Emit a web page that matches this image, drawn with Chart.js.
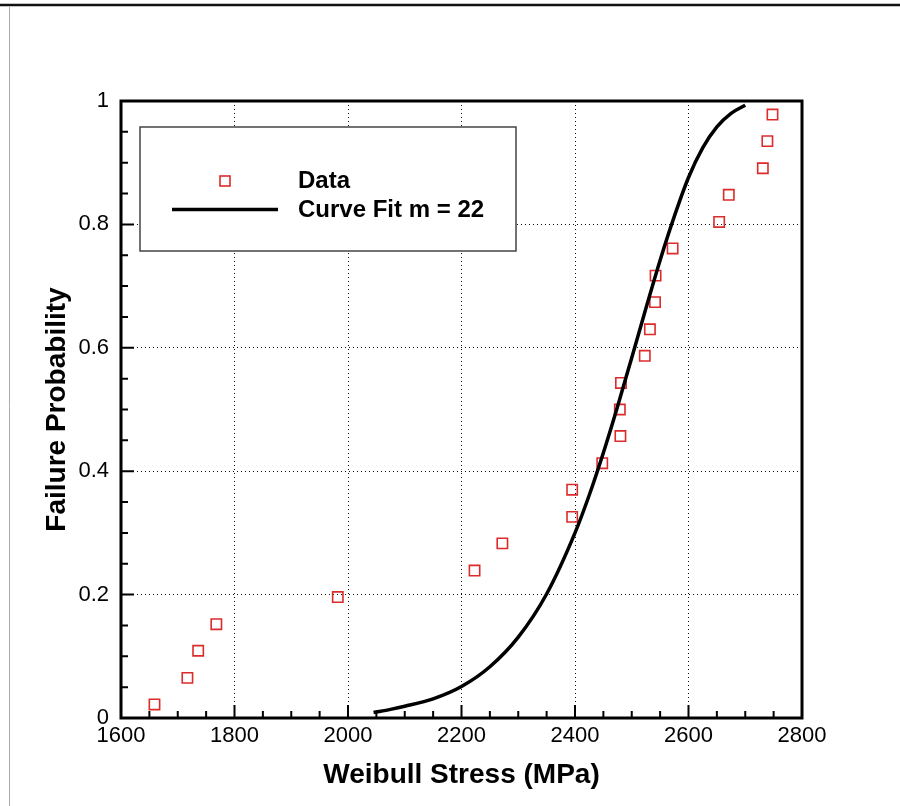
<!DOCTYPE html>
<html><head><meta charset="utf-8">
<script src="https://cdn.jsdelivr.net/npm/chart.js@4/dist/chart.umd.min.js"></script>
<style>html,body{margin:0;padding:0;background:#fff;}#wrap{width:900px;height:806px;position:relative;}canvas{display:block;}</style>
</head><body><div id="wrap"><canvas id="c" width="900" height="806"></canvas></div>
<script>
// ---- data ----
const stressData = [1659,1717,1736,1768,1982,2223,2272,2395,2395,2448,2480,2479,2481,2523,2532,2541,2542,2572,2654,2671,2731,2739,2748];
const probData   = [0.022,0.065,0.109,0.152,0.196,0.239,0.283,0.326,0.370,0.413,0.457,0.500,0.543,0.587,0.630,0.674,0.717,0.761,0.804,0.848,0.891,0.935,0.978];
const fitStress  = [2045,2075,2100,2150,2200,2250,2300,2350,2400,2425,2450,2475,2500,2525,2550,2575,2600,2625,2650,2675,2700];
const fitProb    = [0.009,0.014,0.019,0.031,0.051,0.083,0.131,0.201,0.300,0.361,0.430,0.505,0.584,0.664,0.742,0.813,0.876,0.924,0.958,0.980,0.993];
const xTicks = [1600,1800,2000,2200,2400,2600,2800];
const xTickLabels = ['1600','1800','2000','2200','2400','2600','2800'];
const yTicks = [0,0.2,0.4,0.6,0.8,1];
const yTickLabels = ['0','0.2','0.4','0.6','0.8','1'];
const xMinor = [1650,1700,1750,1850,1900,1950,2050,2100,2150,2250,2300,2350,2450,2500,2550,2650,2700,2750];
const yMinor = [0.05,0.1,0.15,0.25,0.3,0.35,0.45,0.5,0.55,0.65,0.7,0.75,0.85,0.9,0.95];
const seriesNames = ['Data','Curve Fit m = 22'];
const xTitle = 'Weibull Stress (MPa)';
const yTitle = 'Failure Probability';

const FONT = "'Liberation Sans', Arial, Helvetica, sans-serif";
const RED = '#dc2b2b';

const decorPlugin = {
  id: 'decor',
  beforeDraw(chart) {
    const ctx = chart.ctx;
    ctx.save();
    ctx.fillStyle = '#fff';
    ctx.fillRect(0, 0, chart.width, chart.height);
    ctx.strokeStyle = '#111';
    ctx.lineWidth = 2.5;
    ctx.beginPath(); ctx.moveTo(0, 5); ctx.lineTo(chart.width, 5); ctx.stroke();
    ctx.strokeStyle = '#aaa';
    ctx.lineWidth = 1;
    ctx.beginPath(); ctx.moveTo(9.5, 7); ctx.lineTo(9.5, chart.height); ctx.stroke();
    ctx.restore();
  },
  afterDraw(chart) {
    const ctx = chart.ctx;
    const a = chart.chartArea;
    const xs = chart.scales.x, ys = chart.scales.y;
    ctx.save();
    // legend box
    const lx = a.left + 19, ly = a.top + 26, lw = 376, lh = 124;
    ctx.fillStyle = '#fff';
    ctx.fillRect(lx, ly, lw, lh);
    ctx.strokeStyle = '#444';
    ctx.lineWidth = 1.5;
    ctx.strokeRect(lx, ly, lw, lh);
    const d0 = chart.data.datasets[1], d1 = chart.data.datasets[0];
    // data marker
    ctx.strokeStyle = d0.borderColor;
    ctx.lineWidth = d0.borderWidth;
    ctx.strokeRect(lx + 80, ly + 49, 10, 10);
    // line marker
    ctx.strokeStyle = d1.borderColor;
    ctx.lineWidth = d1.borderWidth;
    ctx.beginPath(); ctx.moveTo(lx + 32, ly + 82.5); ctx.lineTo(lx + 138, ly + 82.5); ctx.stroke();
    ctx.fillStyle = '#000';
    ctx.font = 'bold 24px ' + FONT;
    ctx.textBaseline = 'middle';
    ctx.textAlign = 'left';
    ctx.fillText(d0.label, lx + 158, ly + 54);
    ctx.fillText(d1.label, lx + 158, ly + 83);
    // frame
    ctx.strokeStyle = '#000';
    ctx.lineWidth = 3;
    ctx.strokeRect(a.left, a.top, a.right - a.left, a.bottom - a.top);
    // inward ticks
    ctx.lineWidth = 2;
    ctx.beginPath();
    xTicks.forEach(v => { const p = xs.getPixelForValue(v); ctx.moveTo(p, a.bottom); ctx.lineTo(p, a.bottom - 13); });
    xMinor.forEach(v => { const p = xs.getPixelForValue(v); ctx.moveTo(p, a.bottom); ctx.lineTo(p, a.bottom - 7); });
    yTicks.forEach(v => { const p = ys.getPixelForValue(v); ctx.moveTo(a.left, p); ctx.lineTo(a.left + 13, p); });
    yMinor.forEach(v => { const p = ys.getPixelForValue(v); ctx.moveTo(a.left, p); ctx.lineTo(a.left + 7, p); });
    ctx.stroke();
    ctx.restore();
  }
};

new Chart(document.getElementById('c'), {
  type: 'scatter',
  data: {
    datasets: [
      {
        label: seriesNames[1],
        data: fitStress.map((x, i) => ({x: x, y: fitProb[i]})),
        showLine: true,
        borderColor: '#000',
        borderWidth: 3.5,
        pointRadius: 0,
        cubicInterpolationMode: 'monotone',
        order: 0
      },
      {
        label: seriesNames[0],
        data: stressData.map((x, i) => ({x: x, y: probData[i]})),
        showLine: false,
        pointStyle: 'rect',
        pointRadius: 7.3,
        borderColor: RED,
        borderWidth: 1.6,
        backgroundColor: 'rgba(0,0,0,0)',
        order: 1
      }
    ]
  },
  options: {
    responsive: false,
    animation: false,
    devicePixelRatio: 1,
    layout: { padding: { left: 0, right: 98, top: 101, bottom: 0 } },
    plugins: { legend: { display: false }, tooltip: { enabled: false } },
    scales: {
      x: {
        type: 'linear',
        min: 1600, max: 2800,
        afterFit(s) { s.height = 88; },
        afterBuildTicks(s) { s.ticks = xTicks.map(v => ({value: v})); },
        ticks: {
          autoSkip: false, maxRotation: 0, padding: 5, color: '#000',
          font: { family: FONT, size: 22 },
          callback: (v) => xTickLabels[xTicks.indexOf(v)]
        },
        grid: { color: '#111', lineWidth: 1, drawTicks: false },
        border: { display: false, dash: [1, 3] },
        title: { display: true, text: xTitle, color: '#000', padding: { top: 0, bottom: 14 }, font: { family: FONT, size: 28, weight: 'bold' } }
      },
      y: {
        type: 'linear',
        min: 0, max: 1,
        afterFit(s) { s.width = 121; },
        afterBuildTicks(s) { s.ticks = yTicks.map(v => ({value: v})); },
        ticks: {
          autoSkip: false, padding: 12, color: '#000',
          font: { family: FONT, size: 22 },
          callback: (v) => yTickLabels[yTicks.findIndex(t => Math.abs(t - v) < 1e-9)]
        },
        grid: { color: '#111', lineWidth: 1, drawTicks: false },
        border: { display: false, dash: [1, 3] },
        title: { display: true, text: yTitle, color: '#000', padding: { top: 40, bottom: 0 }, font: { family: FONT, size: 28, weight: 'bold' } }
      }
    }
  },
  plugins: [decorPlugin]
});
</script>
</body></html>
